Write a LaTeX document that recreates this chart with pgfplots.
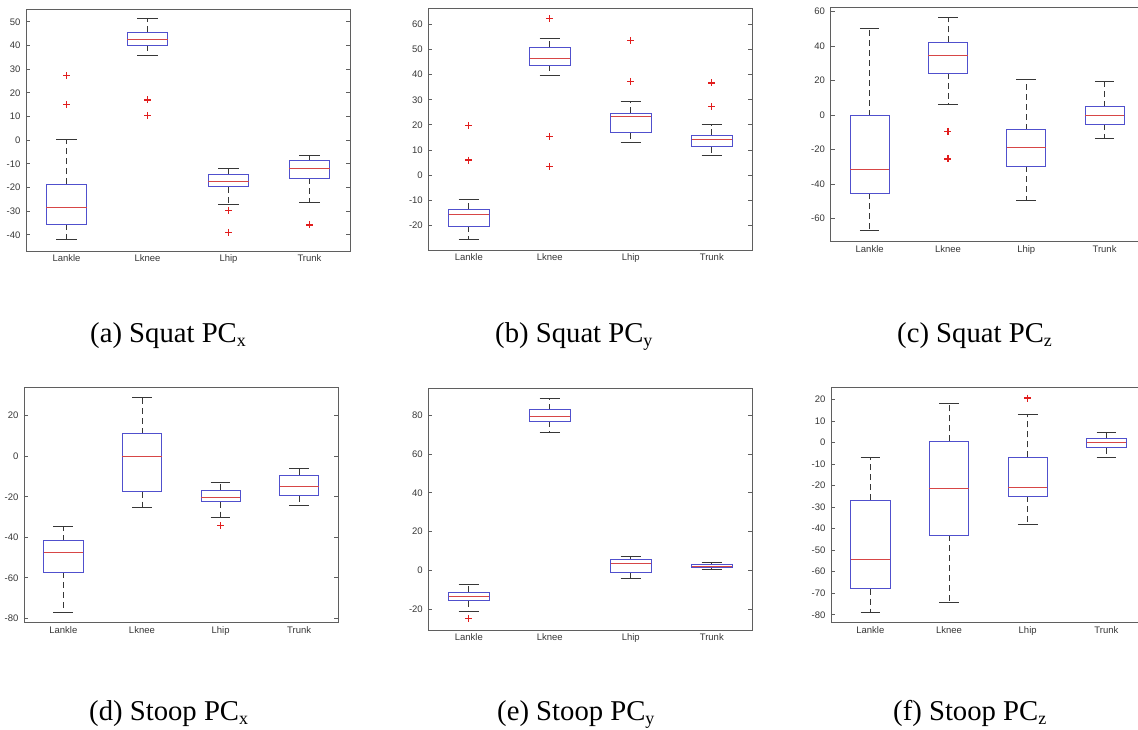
\documentclass[border=0pt]{standalone}
\usepackage{pgfplots}
\pgfplotsset{compat=1.18}
\usepgfplotslibrary{statistics}
\usepackage{fontspec}
\setmainfont{Liberation Serif}
\newfontfamily\tickfont{Liberation Sans}
\definecolor{boxblue}{RGB}{80,80,205}
\definecolor{medred}{RGB}{215,70,70}
\definecolor{outred}{RGB}{225,30,30}
\definecolor{whisk}{RGB}{55,55,55}
\definecolor{spine}{RGB}{95,95,95}
\definecolor{ticklab}{RGB}{55,55,55}
\pgfplotsset{
  mlbox/.style={
    scale only axis,
    anchor=south west,
    xmin=0.5, xmax=4.5,
    xtick={1,2,3,4},
    xticklabels={Lankle,Lknee,Lhip,Trunk},
    tick align=inside,
    ytick pos=both,
    xtick style={draw=none},
    ytick style={spine, line width=0.8pt},
    major tick length=4pt,
    axis line style={spine, line width=0.9pt},
    ticklabel style={font=\tickfont\fontsize{9.5}{11}\selectfont, text=ticklab},
    yticklabel style={xshift=-2pt},
    /pgf/number format/assume math mode=true,
    boxplot/draw direction=y,
    boxplot/box extend=0.5,
    boxplot/whisker extend=0.25,
    boxplot/every box/.style={draw=boxblue, line width=0.8pt},
    boxplot/every median/.style={draw=medred, line width=0.8pt},
    boxplot/draw/lower whisker/.code={
      \draw[whisk, line width=0.8pt, dash pattern=on 6pt off 4pt]
        (boxplot box cs:\pgfplotsboxplotvalue{lower quartile},0.5) --
        (boxplot box cs:\pgfplotsboxplotvalue{lower whisker},0.5);
      \draw[whisk, line width=0.8pt]
        (boxplot whisker cs:\pgfplotsboxplotvalue{lower whisker},0) --
        (boxplot whisker cs:\pgfplotsboxplotvalue{lower whisker},1);
    },
    boxplot/draw/upper whisker/.code={
      \draw[whisk, line width=0.8pt, dash pattern=on 6pt off 4pt]
        (boxplot box cs:\pgfplotsboxplotvalue{upper quartile},0.5) --
        (boxplot box cs:\pgfplotsboxplotvalue{upper whisker},0.5);
      \draw[whisk, line width=0.8pt]
        (boxplot whisker cs:\pgfplotsboxplotvalue{upper whisker},0) --
        (boxplot whisker cs:\pgfplotsboxplotvalue{upper whisker},1);
    },
  },
  outl/.style={only marks, draw=outred, mark=+, mark size=3.5pt, mark options={draw=outred, solid, line width=1.2pt}},
}
\newcommand{\capfont}{\fontsize{28.7}{30}\selectfont}
\newcommand{\sub}[1]{\raisebox{-4pt}{\fontsize{18}{18}\selectfont #1}}
\begin{document}
\begin{tikzpicture}
\useasboundingbox (0pt,0pt) rectangle (1138pt,729pt);
\clip (0pt,0pt) rectangle (1138pt,729pt);

% (a) Squat PCx
\begin{axis}[mlbox, at={(26pt,478pt)}, width=324pt, height=242pt,
  ymin=-46.8, ymax=55.4, ytick={-40,-30,...,50}]
\addplot[boxplot prepared={draw position=1, lower whisker=-42.1, lower quartile=-35.5, median=-28.5, upper quartile=-18.6, upper whisker=0.4}] coordinates {};
\addplot[boxplot prepared={draw position=2, lower whisker=35.8, lower quartile=40, median=42.7, upper quartile=45.6, upper whisker=51.3}] coordinates {};
\addplot[boxplot prepared={draw position=3, lower whisker=-27.2, lower quartile=-19.7, median=-17.2, upper quartile=-14.4, upper whisker=-11.8}] coordinates {};
\addplot[boxplot prepared={draw position=4, lower whisker=-26.3, lower quartile=-16, median=-11.8, upper quartile=-8.6, upper whisker=-6.3}] coordinates {};
\addplot[outl] coordinates {(1,27.3) (1,15) (2,17) (2,10.3) (3,-29.6) (3,-38.9) (4,-35.8)};
\end{axis}

% (b) Squat PCy
\begin{axis}[mlbox, at={(428.3pt,479pt)}, width=324pt, height=241.7pt,
  ymin=-29.8, ymax=66.4, ytick={-20,-10,...,60}]
\addplot[boxplot prepared={draw position=1, lower whisker=-25.4, lower quartile=-20.4, median=-15.6, upper quartile=-13.5, upper whisker=-9.7}] coordinates {};
\addplot[boxplot prepared={draw position=2, lower whisker=39.7, lower quartile=43.7, median=46.4, upper quartile=51, upper whisker=54.6}] coordinates {};
\addplot[boxplot prepared={draw position=3, lower whisker=13.2, lower quartile=16.9, median=23.4, upper quartile=24.6, upper whisker=29.4}] coordinates {};
\addplot[boxplot prepared={draw position=4, lower whisker=7.7, lower quartile=11.3, median=14.2, upper quartile=16, upper whisker=20}] coordinates {};
\addplot[outl] coordinates {(1,19.6) (1,6.0) (2,62.3) (2,15.3) (2,3.3) (3,53.6) (3,37.3) (4,36.7) (4,27.2)};
\end{axis}

% (c) Squat PCz
\begin{axis}[mlbox, at={(830.5pt,487.3pt)}, width=313.2pt, height=234.4pt,
  ymin=-73.5, ymax=62.5, ytick={-60,-40,...,60}]
\addplot[boxplot prepared={draw position=1, lower whisker=-67.2, lower quartile=-45.5, median=-31.4, upper quartile=-0.4, upper whisker=50.1}] coordinates {};
\addplot[boxplot prepared={draw position=2, lower whisker=6.4, lower quartile=24.4, median=34.8, upper quartile=42.2, upper whisker=56.7}] coordinates {};
\addplot[boxplot prepared={draw position=3, lower whisker=-49.4, lower quartile=-29.6, median=-19, upper quartile=-8.5, upper whisker=20.9}] coordinates {};
\addplot[boxplot prepared={draw position=4, lower whisker=-13.5, lower quartile=-5.4, median=0, upper quartile=4.8, upper whisker=19.7}] coordinates {};
\addplot[outl] coordinates {(2,-9.5) (2,-25.5)};
\end{axis}

% (d) Stoop PCx
\begin{axis}[mlbox, at={(24pt,106.3pt)}, width=314.5pt, height=235.4pt,
  ymin=-82.1, ymax=34, ytick={-80,-60,...,20}]
\addplot[boxplot prepared={draw position=1, lower whisker=-77, lower quartile=-57.1, median=-47.4, upper quartile=-41.6, upper whisker=-34.6}] coordinates {};
\addplot[boxplot prepared={draw position=2, lower whisker=-25.3, lower quartile=-17.4, median=0, upper quartile=11.2, upper whisker=29}] coordinates {};
\addplot[boxplot prepared={draw position=3, lower whisker=-30, lower quartile=-22.4, median=-20.1, upper quartile=-16.8, upper whisker=-12.8}] coordinates {};
\addplot[boxplot prepared={draw position=4, lower whisker=-24.2, lower quartile=-19.4, median=-15.1, upper quartile=-9.5, upper whisker=-6.1}] coordinates {};
\addplot[outl] coordinates {(3,-34.2)};
\end{axis}

% (e) Stoop PCy
\begin{axis}[mlbox, at={(428.3pt,99pt)}, width=324pt, height=241.7pt,
  ymin=-30.7, ymax=93.9, ytick={-20,0,...,80}]
\addplot[boxplot prepared={draw position=1, lower whisker=-21.3, lower quartile=-15.6, median=-13.4, upper quartile=-11.2, upper whisker=-7.4}] coordinates {};
\addplot[boxplot prepared={draw position=2, lower whisker=71.2, lower quartile=76.9, median=79.5, upper quartile=82.9, upper whisker=88.6}] coordinates {};
\addplot[boxplot prepared={draw position=3, lower whisker=-4.3, lower quartile=-1.2, median=3.6, upper quartile=5.5, upper whisker=7}] coordinates {};
\addplot[boxplot prepared={draw position=4, lower whisker=0.3, lower quartile=1.4, median=2.1, upper quartile=2.9, upper whisker=4.3}] coordinates {};
\addplot[outl] coordinates {(1,-24.9)};
\end{axis}

% (f) Stoop PCz
\begin{axis}[mlbox, at={(831pt,106.3pt)}, width=314.7pt, height=235.4pt,
  ymin=-83.7, ymax=25.6, ytick={-80,-70,...,20}]
\addplot[boxplot prepared={draw position=1, lower whisker=-78.9, lower quartile=-67.9, median=-54.3, upper quartile=-26.8, upper whisker=-7.1}] coordinates {};
\addplot[boxplot prepared={draw position=2, lower whisker=-74.5, lower quartile=-43, median=-21.4, upper quartile=0.5, upper whisker=18.3}] coordinates {};
\addplot[boxplot prepared={draw position=3, lower whisker=-38.2, lower quartile=-24.9, median=-20.7, upper quartile=-6.9, upper whisker=12.8}] coordinates {};
\addplot[boxplot prepared={draw position=4, lower whisker=-7, lower quartile=-2.5, median=-0.2, upper quartile=2, upper whisker=4.5}] coordinates {};
\addplot[outl] coordinates {(3,20.6)};
\end{axis}

% captions
\node[anchor=base west, inner sep=0, font=\capfont] at (90pt,386pt) {(a) Squat PC\sub{x}};
\node[anchor=base west, inner sep=0, font=\capfont] at (495pt,386pt) {(b) Squat PC\sub{y}};
\node[anchor=base west, inner sep=0, font=\capfont] at (897pt,386pt) {(c) Squat PC\sub{z}};
\node[anchor=base west, inner sep=0, font=\capfont] at (89pt,9pt) {(d) Stoop PC\sub{x}};
\node[anchor=base west, inner sep=0, font=\capfont] at (497pt,9pt) {(e) Stoop PC\sub{y}};
\node[anchor=base west, inner sep=0, font=\capfont] at (893pt,9pt) {(f) Stoop PC\sub{z}};
\end{tikzpicture}
\end{document}
